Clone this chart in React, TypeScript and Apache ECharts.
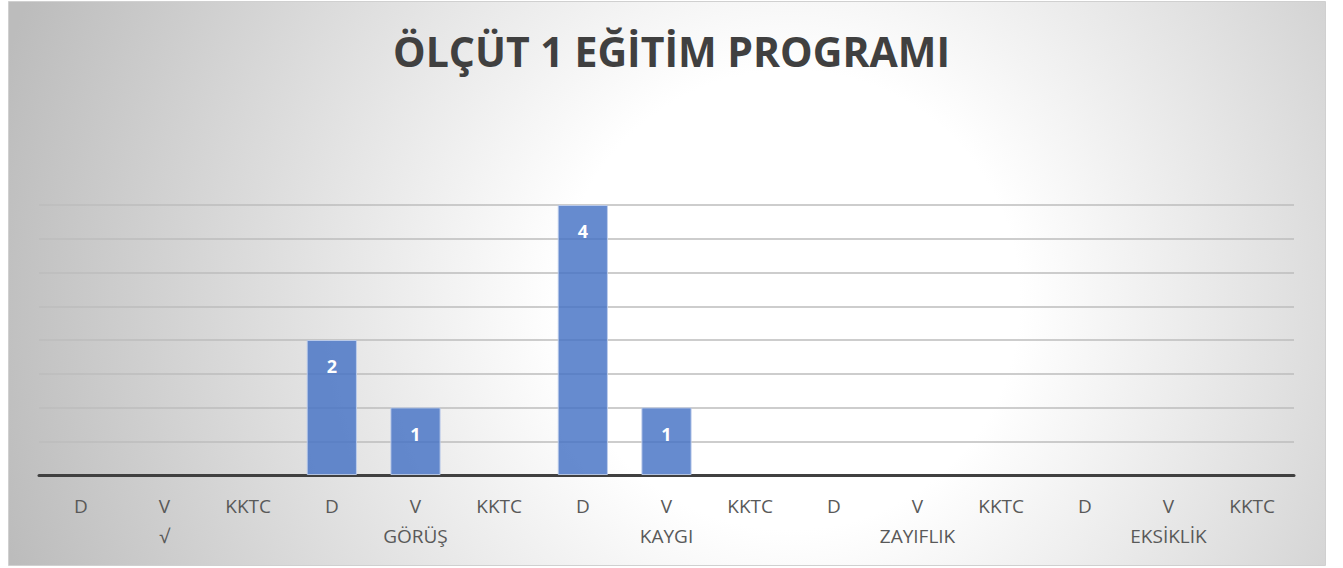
import React, { useEffect, useRef } from "react";
import * as echarts from "echarts";

const categories = ["D", "V", "KKTC", "D", "V", "KKTC", "D", "V", "KKTC", "D", "V", "KKTC", "D", "V", "KKTC"];
const groupNames = ["√", "GÖRÜŞ", "KAYGI", "ZAYIFLIK", "EKSİKLİK"];
const values = [null, null, null, 2, 1, null, 4, 1, null, null, null, null, null, null, null];
const titleText = "ÖLÇÜT 1 EĞİTİM PROGRAMI";

export default function App() {
  const ref = useRef<HTMLDivElement>(null);
  useEffect(() => {
    document.body.style.margin = "0";
    const chart = echarts.init(ref.current!, undefined, { renderer: "svg" });
    chart.setOption({
      animation: false,
      graphic: [
        {
          type: "rect",
          z: -10,
          silent: true,
          shape: { x: 8.5, y: 1.5, width: 1317, height: 564 },
          style: {
            fill: new echarts.graphic.RadialGradient(
              790,
              300,
              820,
              [
                { offset: 0, color: "#ffffff" },
                { offset: 0.28, color: "#ffffff" },
                { offset: 1, color: "#bcbcbc" },
              ],
              true
            ),
            stroke: "#d0d0d0",
            lineWidth: 1,
          },
        },
      ],
      title: {
        text: titleText,
        left: "center",
        top: 25,
        textStyle: {
          fontFamily: "Open Sans",
          fontSize: 41,
          fontWeight: "bold",
          color: "#404040",
        },
      },
      grid: { left: 39, right: 49, top: 205, bottom: 93 },
      xAxis: {
        type: "category",
        data: categories,
        axisLine: { lineStyle: { color: "#404040", width: 3 } },
        axisTick: { show: false },
        axisLabel: {
          interval: 0,
          margin: 16,
          fontFamily: "Open Sans",
          fontSize: 19,
          color: "#595959",
          lineHeight: 30,
          formatter: (v: string, i: number) =>
            i % 3 === 1 ? v + "\n" + groupNames[Math.floor(i / 3)] : v,
        },
      },
      yAxis: {
        type: "value",
        min: 0,
        max: 4,
        interval: 0.5,
        axisLabel: { show: false },
        axisLine: { show: false },
        axisTick: { show: false },
        splitLine: { lineStyle: { color: "#bdbdbd", width: 1.5 } },
      },
      series: [
        {
          type: "bar",
          data: values,
          barCategoryGap: "40%",
          itemStyle: {
            color: "rgba(68,114,196,0.82)",
            borderColor: "rgba(190,205,235,0.9)",
            borderWidth: 1,
          },
          label: {
            show: true,
            position: "insideTop",
            distance: 17,
            color: "#ffffff",
            fontFamily: "Open Sans",
            fontWeight: "bold",
            fontSize: 18,
          },
        },
      ],
    });
    return () => chart.dispose();
  }, []);
  return <div ref={ref} style={{ width: 1343, height: 568 }} />;
}
